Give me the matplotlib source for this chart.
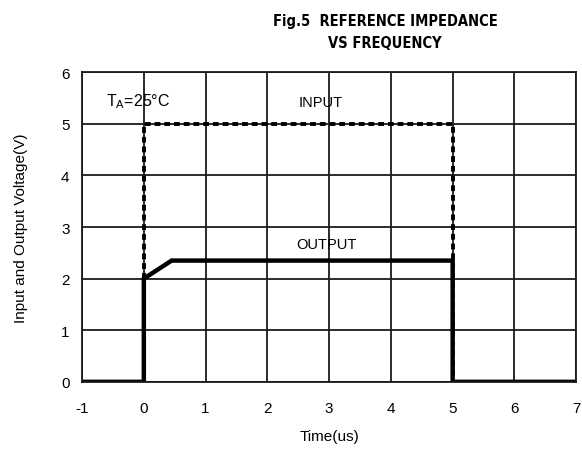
import matplotlib.pyplot as plt

plt.rcParams["font.family"] = ["Liberation Sans", "DejaVu Sans"]
plt.rcParams["axes.unicode_minus"] = False

# waveform data (time in us, voltage in V)
input_t = [-1, 0, 0, 5, 5, 7]
input_v = [0, 0, 5, 5, 0, 0]
output_t = [-1, 0, 0, 0.45, 5, 5, 7]
output_v = [0, 0, 2, 2.35, 2.35, 0, 0]
x_ticks = [-1, 0, 1, 2, 3, 4, 5, 6, 7]
y_ticks = [0, 1, 2, 3, 4, 5, 6]

fig = plt.figure(figsize=(5.82, 4.52), dpi=100)
ax = fig.add_axes([0.141, 0.153, 0.849, 0.685])

ax.plot(input_t, input_v, color="black", linewidth=2.8, linestyle=(0, (1.5, 1.0)))
ax.plot(output_t, output_v, color="black", linewidth=3.2, solid_joinstyle="miter")

ax.set_xlim(-1, 7)
ax.set_ylim(0, 6)
ax.set_xticks(x_ticks)
ax.set_yticks(y_ticks)
ax.tick_params(length=0, labelsize=11)
ax.tick_params(axis="x", pad=14)
ax.tick_params(axis="y", pad=9)
ax.grid(True, color="#1a1a1a", linewidth=1.3)
for s in ax.spines.values():
    s.set_color("#1a1a1a")
    s.set_linewidth(1.3)

ax.text(-0.62, 5.45, "T$_\\mathregular{A}$=25°C", fontsize=11.5, va="center")
ax.text(2.86, 5.42, "INPUT", fontsize=10.5, ha="center", va="center")
ax.text(2.96, 2.68, "OUTPUT", fontsize=10.5, ha="center", va="center")

ax.set_xlabel("Time(us)", fontsize=11, labelpad=10)
ax.set_ylabel("Input and Output Voltage(V)", fontsize=11, labelpad=24)

fig.text(0.662, 0.952, "Fig.5  REFERENCE IMPEDANCE", ha="center", va="center",
         fontsize=10.5, fontweight="bold", fontstretch="condensed",
         family="DejaVu Sans")
fig.text(0.662, 0.903, "VS FREQUENCY", ha="center", va="center",
         fontsize=10.5, fontweight="bold", fontstretch="condensed",
         family="DejaVu Sans")

fig.savefig("out.png", dpi=100)
